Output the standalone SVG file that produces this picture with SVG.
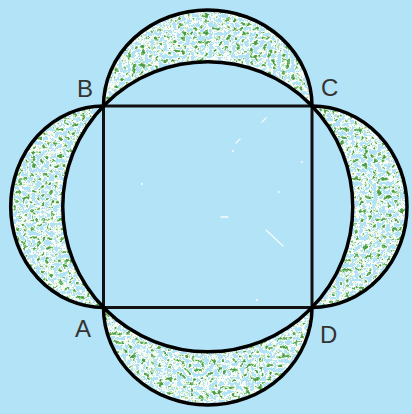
<svg xmlns="http://www.w3.org/2000/svg" width="412" height="414" viewBox="0 0 412 414">
  <defs>
    <style>
      .edge { fill: none; stroke: #000; stroke-width: 3.5; stroke-linejoin: round; }
      .side { fill: none; stroke: #111; stroke-width: 3; stroke-linecap: square; }
      .lune { fill: #fff; stroke: none; filter: url(#speckle); }
      .lbl { font-family: "Liberation Sans", Arial, sans-serif; font-size: 24px; fill: #333; }
      .scratch { stroke: #fff; stroke-width: 1.3; stroke-linecap: round; opacity: 0.85; fill: none; }
    </style>
    <filter id="speckle" color-interpolation-filters="sRGB">
      <feTurbulence type="fractalNoise" baseFrequency="0.22" numOctaves="3" seed="11" result="n"/>
      <feColorMatrix in="n" type="matrix" values="1 0 0 0 0  1 0 0 0 0  1 0 0 0 0  0 0 0 0 1" result="g"/>
      <feComponentTransfer in="g" result="c">
        <feFuncR type="discrete" tableValues="0.70 0.70 0.70 0.70 0.70 0.70 0.70 0.70 0.70 0.97 0.99 0.90 0.72 0.48 0.35 0.30 0.30 0.30 0.30 0.30"/>
        <feFuncG type="discrete" tableValues="0.89 0.89 0.89 0.89 0.89 0.89 0.89 0.89 0.89 0.99 1.00 0.96 0.88 0.74 0.66 0.60 0.60 0.60 0.60 0.60"/>
        <feFuncB type="discrete" tableValues="0.965 0.965 0.965 0.965 0.965 0.965 0.965 0.965 0.965 0.98 0.98 0.88 0.70 0.46 0.34 0.28 0.28 0.28 0.28 0.28"/>
        <feFuncA type="discrete" tableValues="1"/>
      </feComponentTransfer>
      <feGaussianBlur stdDeviation="0.35"/>
      <feComposite in2="SourceAlpha" operator="in"/>
    </filter>
  </defs>
  <rect width="412" height="414" fill="#b3e3f6"/>
  <g id="lunes">
    <path class="lune" d="M103.5 106 A104.25 96 0 0 1 312 106 A145 145 0 0 0 103.5 106 Z"/>
    <path class="lune" d="M312 106 A95 100.75 0 0 1 312 307.5 A145 145 0 0 0 312 106 Z"/>
    <path class="lune" d="M312 307.5 A104.25 97.5 0 0 1 103.5 307.5 A145 145 0 0 0 312 307.5 Z"/>
    <path class="lune" d="M103.5 307.5 A92.8 100.75 0 0 1 103.5 106 A145 145 0 0 0 103.5 307.5 Z"/>
  </g>
  <g id="scratches">
    <path class="scratch" d="M221 217 L228 217"/>
    <path class="scratch" d="M266 230 L283 246"/>
    <path class="scratch" d="M262 122 L266 118"/>
    <path class="scratch" d="M236 143 L240 139"/>
    <circle cx="233" cy="151" r="0.9" fill="#fff"/>
    <circle cx="279" cy="192" r="0.9" fill="#fff"/>
    <circle cx="302" cy="162" r="0.9" fill="#fff"/>
    <circle cx="142" cy="184" r="0.9" fill="#fff"/>
    <circle cx="257" cy="300" r="0.9" fill="#fff"/>
  </g>
  <g id="square">
    <path class="side" d="M103.5 106 H312 V307.5 H103.5 Z"/>
  </g>
  <g id="circle">
    <circle class="edge" cx="207.75" cy="206.75" r="145"/>
  </g>
  <g id="arcs">
    <path class="edge" d="M103.5 106 A104.25 96 0 0 1 312 106"/>
    <path class="edge" d="M312 106 A95 100.75 0 0 1 312 307.5"/>
    <path class="edge" d="M312 307.5 A104.25 97.5 0 0 1 103.5 307.5"/>
    <path class="edge" d="M103.5 307.5 A92.8 100.75 0 0 1 103.5 106"/>
  </g>
  <g id="labels">
    <text class="lbl" x="77" y="97">B</text>
    <text class="lbl" x="321" y="96">C</text>
    <text class="lbl" x="75" y="337">A</text>
    <text class="lbl" x="320" y="343">D</text>
  </g>
</svg>
